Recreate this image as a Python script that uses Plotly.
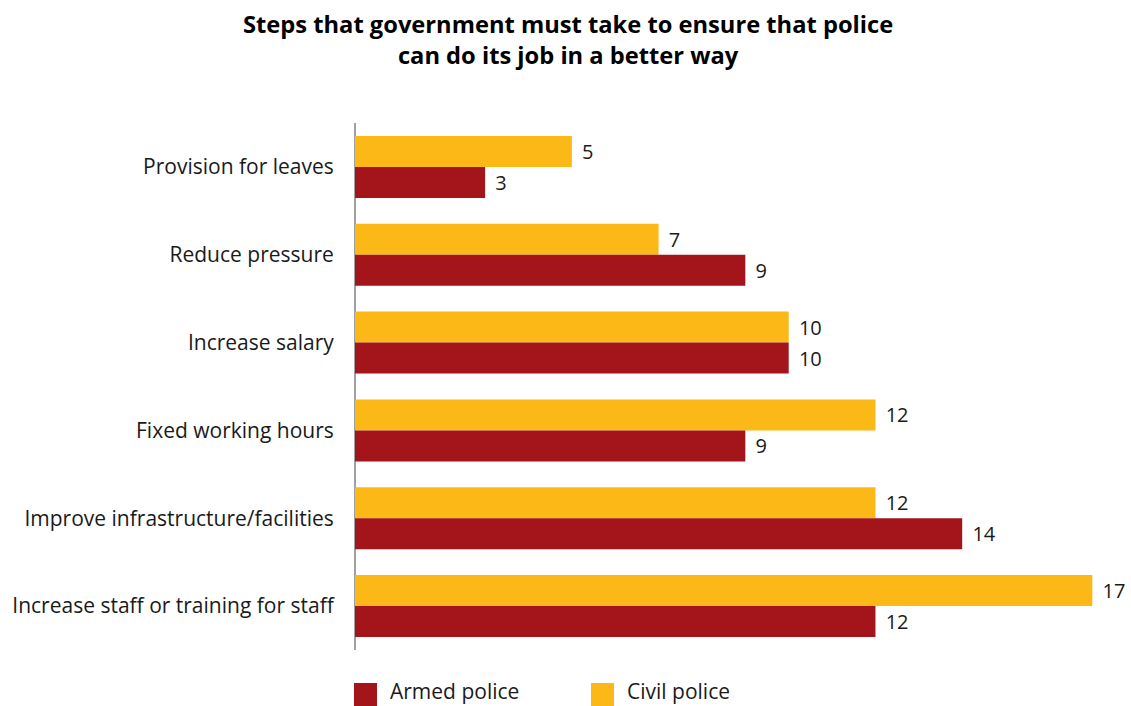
import plotly.graph_objects as go

categories = [
    "Provision for leaves",
    "Reduce pressure",
    "Increase salary",
    "Fixed working hours",
    "Improve infrastructure/facilities",
    "Increase staff or training for staff",
]
civil_police = [5, 7, 10, 12, 12, 17]
armed_police = [3, 9, 10, 9, 14, 12]
series_names = ["Armed police", "Civil police"]
title_text = "Steps that government must take to ensure that police<br>can do its job in a better way"

RED = "#a3151a"
YELLOW = "#fbb817"
TEXT = "#1a1a1a"
FONT = "Open Sans"

fig = go.Figure()
for name, vals, col in [("Civil police", civil_police, YELLOW), ("Armed police", armed_police, RED)]:
    fig.add_trace(go.Bar(
        y=categories, x=vals, name=name, orientation="h",
        marker=dict(color=col, line=dict(width=0)),
        text=["\u00a0\u200a" + str(v) for v in vals],
        textposition="outside", constraintext="none", cliponaxis=False,
        textfont=dict(family=FONT, size=20, color=TEXT),
        showlegend=False,
    ))

W, H = 1131, 706
L, R, T, B = 355, 17, 123, 56
fig.update_layout(
    width=W, height=H,
    margin=dict(l=L, r=R, t=T, b=B),
    paper_bgcolor="white", plot_bgcolor="white",
    barmode="group", bargap=0.295, bargroupgap=0,
    font=dict(family=FONT, size=21, color=TEXT),
    xaxis=dict(range=[0, 17.5], showgrid=False, showticklabels=False,
               zeroline=True, zerolinecolor="#a0a0a0", zerolinewidth=2,
               showline=False, fixedrange=True),
    yaxis=dict(autorange="reversed", showgrid=False, showline=False,
               ticks="outside", ticklen=16, tickcolor="rgba(0,0,0,0)",
               tickfont=dict(family=FONT, size=21, color=TEXT)),
)

ph = H - T - B
pw = W - L - R
def py(pix):
    return (H - B - pix) / ph
def px(pix):
    return (pix - L) / pw

# title
fig.add_annotation(xref="paper", yref="paper", x=px(568), y=py(6),
                   text="<b>" + title_text + "</b>", showarrow=False,
                   xanchor="center", yanchor="top", align="center",
                   font=dict(family=FONT, size=23.7, color="#000"))

# legend drawn manually with larger swatches
legend_items = [(series_names[0], RED, 354), (series_names[1], YELLOW, 591)]
for name, col, x0 in legend_items:
    fig.add_shape(type="rect", xref="paper", yref="paper",
                  x0=px(x0), x1=px(x0 + 23),
                  y0=py(706), y1=py(683), fillcolor=col, line=dict(width=0))
    fig.add_annotation(xref="paper", yref="paper", x=px(x0 + 34),
                       y=py(691), text=name, showarrow=False, xanchor="left",
                       yanchor="middle",
                       font=dict(family=FONT, size=21, color=TEXT))

fig.write_html("out.html", config={"displayModeBar": False},
               post_script="document.body.style.margin='0';document.body.style.padding='0';")
